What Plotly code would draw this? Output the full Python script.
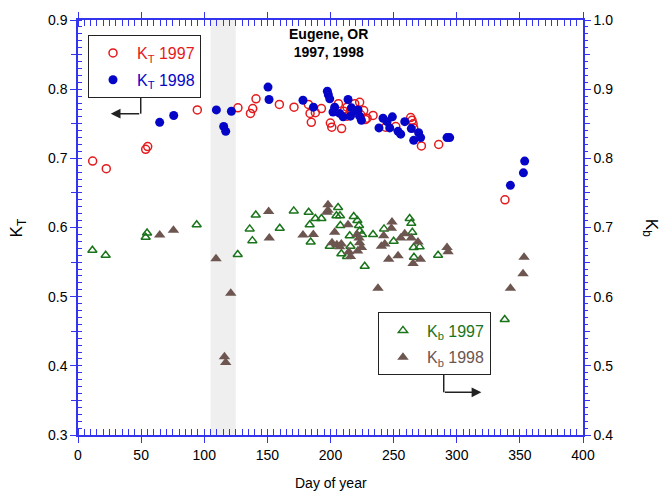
import plotly.graph_objects as go

# ---- data (day of year, value) ----
kt97_day = [11.6, 22.4, 53.6, 55.2, 94.5, 126.7, 136.6, 138.4, 141, 159.5, 171.1, 182.5, 183.8, 184.8,
            188, 192.8, 199.9, 201, 206.3, 208.8, 210.5, 213.1, 213.1, 216, 219.2, 221, 223.1, 224,
            226.3, 227.6, 229, 233.7, 243.7, 251.7, 263.5, 264.6, 265.4, 265.9, 272, 285.7, 338.2]
kt97_val = [0.696, 0.685, 0.713, 0.717, 0.770, 0.773, 0.765, 0.772, 0.786, 0.778, 0.774, 0.778, 0.765, 0.752,
            0.766, 0.772, 0.751, 0.745, 0.779, 0.743, 0.768, 0.774, 0.761, 0.770, 0.779, 0.766, 0.781, 0.763,
            0.769, 0.756, 0.758, 0.762, 0.745, 0.746, 0.759, 0.755, 0.750, 0.744, 0.718, 0.720, 0.640]

kt98_day = [64.7, 75.8, 109.6, 115.4, 117, 121.5, 150.5, 151.3, 178.2, 186.5, 197.5, 198.3, 199.4, 202,
            203.3, 207.3, 210, 213.9, 215.8, 216.6, 219, 221.8, 223.1, 224.5, 238.4, 241.6, 244.8, 246.9,
            249, 253.5, 255.6, 258.8, 264, 265.9, 269.8, 271.4, 292.3, 294.4, 342.5, 352.8, 353.8]
kt98_val = [0.752, 0.762, 0.770, 0.746, 0.739, 0.768, 0.803, 0.785, 0.784, 0.774, 0.797, 0.792, 0.786, 0.767,
            0.774, 0.765, 0.760, 0.785, 0.761, 0.773, 0.768, 0.770, 0.761, 0.755, 0.744, 0.758, 0.753, 0.744,
            0.760, 0.739, 0.735, 0.753, 0.743, 0.726, 0.737, 0.730, 0.730, 0.730, 0.661, 0.679, 0.696]

kb97_day = [11.4, 21.9, 53.6, 54.7, 94, 126.5, 136, 138.1, 140.8, 159.8, 170.9, 182.7, 183.5, 184.3,
            188, 192.8, 199.4, 204.7, 206, 207.5, 207.8, 208.6, 213.1, 215.2, 215.8, 218.4, 221.3, 222.6,
            223.1, 225, 227.1, 233.7, 242.4, 250, 262.7, 264, 264.8, 265.9, 266.1, 270.6, 285.2, 338]
kb97_val = [0.667, 0.660, 0.686, 0.692, 0.704, 0.661, 0.698, 0.681, 0.718, 0.699, 0.724, 0.722, 0.704, 0.679,
            0.713, 0.713, 0.673, 0.717, 0.729, 0.717, 0.703, 0.662, 0.658, 0.688, 0.673, 0.716, 0.710, 0.703,
            0.695, 0.690, 0.644, 0.690, 0.698, 0.680, 0.713, 0.706, 0.693, 0.671, 0.657, 0.672, 0.660, 0.567]

kb98_day = [64.7, 75.6, 109.3, 116, 117, 121, 151, 151.5, 178.2, 186.4, 197.2, 198, 198, 201.2, 203.3,
            205, 207.3, 208.6, 213.9, 214.5, 215.8, 221, 222.6, 223.1, 224.5, 221.5, 237.6, 240.3, 242.1,
            243, 246.1, 248.2, 248.7, 253.5, 255.6, 258.8, 264, 265.4, 269.3, 271.2, 292.3, 293.1,
            342.5, 352.5, 353.3]
kb98_val = [0.689, 0.696, 0.655, 0.513, 0.505, 0.605, 0.723, 0.685, 0.689, 0.690, 0.722, 0.725, 0.733, 0.678, 0.693,
            0.675, 0.672, 0.676, 0.704, 0.665, 0.658, 0.690, 0.685, 0.678, 0.671, 0.666, 0.612, 0.673, 0.688,
            0.676, 0.654, 0.699, 0.708, 0.659, 0.685, 0.691, 0.685, 0.648, 0.679, 0.654, 0.671, 0.665,
            0.612, 0.633, 0.657]

band_days = [105, 125]  # shaded period

RED = "#e41a1c"
BLUE = "#0505c8"
GREEN = "#1b741b"
BROWN = "#6d5550"
AXIS = "#3434ee"
FONT = "Liberation Sans, Arial, sans-serif"

fig = go.Figure()

fig.add_trace(go.Scatter(x=kt97_day, y=kt97_val, mode="markers", legend="legend", legendgroup="a",
                         name=f"<span style='color:{RED}'>K<sub>T</sub> 1997</span>",
                         marker=dict(symbol="circle-open", size=8, color=RED, line=dict(width=1.5))))
fig.add_trace(go.Scatter(x=kt98_day, y=kt98_val, mode="markers", legend="legend", legendgroup="b",
                         name=f"<span style='color:{BLUE}'>K<sub>T</sub> 1998</span>",
                         marker=dict(symbol="circle", size=9, color=BLUE)))
fig.add_trace(go.Scatter(x=kb97_day, y=kb97_val, mode="markers", yaxis="y2", legend="legend2", legendgroup="c",
                         name=f"<span style='color:{GREEN}'>K<sub>b</sub> 1997</span>",
                         marker=dict(symbol="triangle-up-open", size=8, color=GREEN, line=dict(width=1.5))))
fig.add_trace(go.Scatter(x=kb98_day, y=kb98_val, mode="markers", yaxis="y2", legend="legend2", legendgroup="d",
                         name=f"<span style='color:{BROWN}'>K<sub>b</sub> 1998</span>",
                         marker=dict(symbol="triangle-up", size=10, color=BROWN)))
# empty traces so the half-step tick axes are drawn
fig.add_trace(go.Scatter(x=[], y=[], yaxis="y3", showlegend=False, hoverinfo="skip"))
fig.add_trace(go.Scatter(x=[], y=[], yaxis="y4", showlegend=False, hoverinfo="skip"))

fig.add_shape(type="rect", xref="x", yref="paper", x0=band_days[0], x1=band_days[1], y0=0, y1=1,
              fillcolor="#efefef", line=dict(width=0), layer="below")

# arrows from legend boxes
ARR = "#222222"
fig.add_shape(type="line", xref="paper", yref="paper", x0=0.1242, x1=0.1242, y0=0.8178, y1=0.7743,
              line=dict(color=ARR, width=1.5))
fig.add_annotation(xref="paper", yref="paper", x=0.0648, y=0.7743, ax=30, ay=0, text="", showarrow=True,
                   arrowhead=2, arrowsize=1.3, arrowwidth=1.5, arrowcolor=ARR)
fig.add_shape(type="line", xref="paper", yref="paper", x0=0.7242, x1=0.7242, y0=0.1449, y1=0.1029,
              line=dict(color=ARR, width=1.5))
fig.add_annotation(xref="paper", yref="paper", x=0.7988, y=0.1029, ax=-38, ay=0, text="", showarrow=True,
                   arrowhead=2, arrowsize=1.3, arrowwidth=1.5, arrowcolor=ARR)

fig.add_annotation(xref="paper", yref="paper", x=0.497, y=0.945, xanchor="center", yanchor="middle",
                   text="<b>Eugene, OR<br>1997, 1998</b>",
                   showarrow=False, font=dict(size=14, color="black", family=FONT))
fig.add_annotation(xref="paper", yref="paper", x=-0.119, y=0.5, xanchor="center", yanchor="middle",
                   text="K<sub>T</sub>", textangle=-90,
                   showarrow=False, font=dict(size=17, color="black", family=FONT))
fig.add_annotation(xref="paper", yref="paper", x=1.134, y=0.5, xanchor="center", yanchor="middle",
                   text="K<sub>b</sub>", textangle=90,
                   showarrow=False, font=dict(size=17, color="black", family=FONT))
fig.add_annotation(xref="paper", yref="paper", x=0.5, y=-0.115, xanchor="center", yanchor="middle",
                   text="Day of year",
                   showarrow=False, font=dict(size=14, color="black", family=FONT))

xt = list(range(0, 401, 50))
yl = [round(0.3 + 0.1 * i, 1) for i in range(7)]
yl_half = [round(0.35 + 0.1 * i, 2) for i in range(6)]
yr = [round(0.4 + 0.1 * i, 1) for i in range(7)]
yr_half = [round(0.45 + 0.1 * i, 2) for i in range(6)]

tick_common = dict(tickcolor=AXIS, tickwidth=1.3, showgrid=False, zeroline=False)

fig.update_layout(
    width=662, height=491, margin=dict(l=78, r=79, t=14, b=56),
    paper_bgcolor="white", plot_bgcolor="white",
    font=dict(family=FONT, size=14, color="black"),
    xaxis=dict(range=[0, 400], tickmode="array", tickvals=xt, ticks="outside", ticklen=6,
               showline=True, linecolor=AXIS, linewidth=1.5, mirror="allticks", **tick_common,
               minor=dict(tickmode="linear", tick0=0, dtick=5, ticks="inside", ticklen=4,
                          tickcolor=AXIS, tickwidth=1.3, showgrid=False)),
    yaxis=dict(range=[0.3, 0.9], tickmode="array", tickvals=yl, tickformat=".1f", ticks="outside",
               ticklen=6, showline=True, linecolor=AXIS, linewidth=1.5, **tick_common,
               minor=dict(tickmode="linear", tick0=0.3, dtick=0.01, ticks="inside", ticklen=4,
                          tickcolor=AXIS, tickwidth=1.3, showgrid=False)),
    yaxis3=dict(range=[0.3, 0.9], overlaying="y", side="left", tickmode="array", tickvals=yl_half,
                ticks="outside", ticklen=6, showticklabels=False, showline=False, **tick_common),
    yaxis2=dict(range=[0.4, 1.0], overlaying="y", side="right", tickmode="array", tickvals=yr,
                tickformat=".1f", ticks="outside", ticklen=6, showline=True,
                linecolor=AXIS, linewidth=1.5, **tick_common,
                minor=dict(tickmode="linear", tick0=0.4, dtick=0.01, ticks="outside", ticklen=3,
                           tickcolor=AXIS, tickwidth=1.3, showgrid=False)),
    yaxis4=dict(range=[0.4, 1.0], overlaying="y", side="right", tickmode="array", tickvals=yr_half,
                ticks="outside", ticklen=6, showticklabels=False, showline=False, **tick_common),
    legend=dict(x=0.0198, y=0.9637, xanchor="left", yanchor="top", bordercolor="#222", borderwidth=1,
                bgcolor="white", font=dict(size=16), itemwidth=38, tracegroupgap=3, traceorder="grouped"),
    legend2=dict(x=0.594, y=0.2952, xanchor="left", yanchor="top", bordercolor="#222", borderwidth=1,
                 bgcolor="white", font=dict(size=16), itemwidth=38, tracegroupgap=3, traceorder="grouped"),
)

fig.write_html("out.html")
